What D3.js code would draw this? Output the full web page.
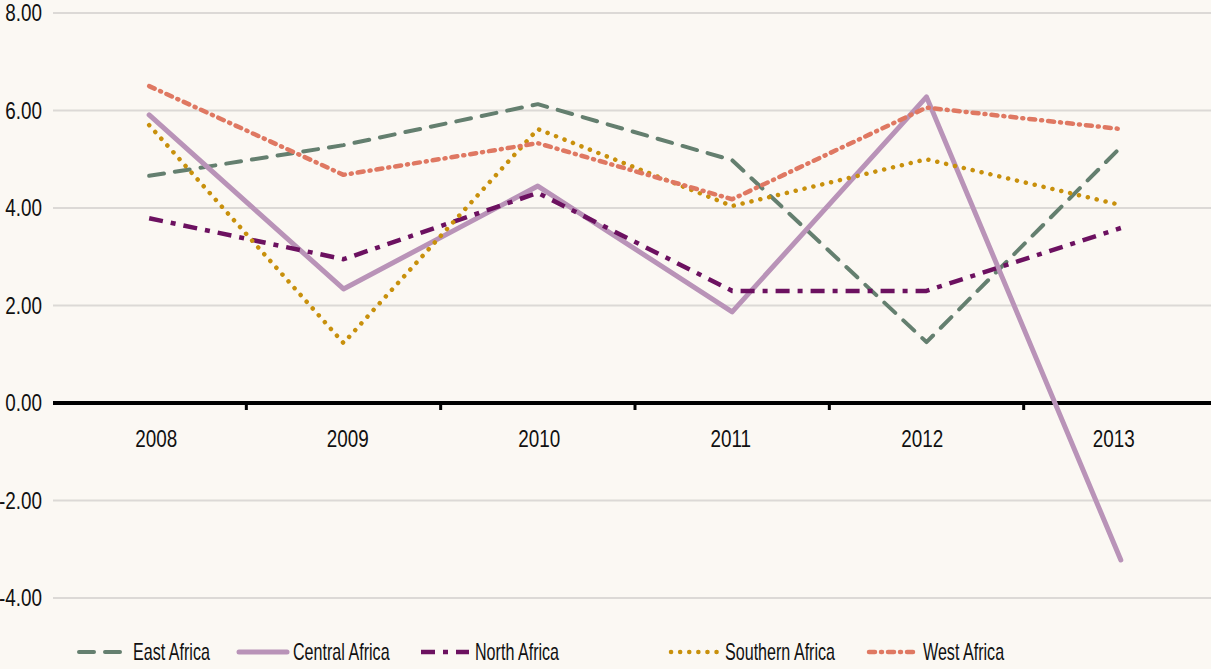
<!DOCTYPE html>
<html>
<head>
<meta charset="utf-8">
<script src="https://cdn.jsdelivr.net/npm/d3@7"></script>
<style>
  body { margin: 0; background: #fbf8f3; }
  svg text { font-family: "Liberation Sans", Arial, sans-serif; fill: #111; }
</style>
</head>
<body>
<svg id="chart"></svg>
<script>
const years = ['2008', '2009', '2010', '2011', '2012', '2013'];
const eastAfrica = [4.66, 5.29, 6.13, 4.98, 1.25, 5.25];
const centralAfrica = [5.91, 2.34, 4.45, 1.87, 6.28, -3.22];
const northAfrica = [3.79, 2.95, 4.31, 2.30, 2.30, 3.59];
const southernAfrica = [5.70, 1.23, 5.62, 4.04, 5.00, 4.06];
const westAfrica = [6.50, 4.68, 5.33, 4.18, 6.06, 5.62];
const yTicks = [-4, -2, 0, 2, 4, 6, 8];

const series = [
  { name: 'East Africa', values: eastAfrica, color: '#647f6f', width: 4, dash: '15 11', cap: 'round' },
  { name: 'Central Africa', values: centralAfrica, color: '#b993b8', width: 5, dash: null, cap: 'round' },
  { name: 'North Africa', values: northAfrica, color: '#6c1160', width: 4.5, dash: '14 8 5 8', cap: 'butt' },
  { name: 'Southern Africa', values: southernAfrica, color: '#c8900c', width: 4.5, dash: '0.1 9', cap: 'round' },
  { name: 'West Africa', values: westAfrica, color: '#df7862', width: 4.5, dash: '6 6 1 6', cap: 'round' }
];

const width = 1211, height = 669;
const fontSize = 23;
// narrow the text like a condensed face; digits a bit less
const squeezeText = 0.7;
const squeezeNum = 0.82;

const svg = d3.select('#chart').attr('width', width).attr('height', height);

const x = d3.scaleBand().domain(years).range([52, 1218]);
const y = d3.scaleLinear().domain([-4, 8]).range([598, 13]);

// grid lines
svg.append('g')
  .selectAll('line')
  .data(yTicks.filter(d => d !== 0))
  .join('line')
  .attr('x1', 53).attr('x2', width)
  .attr('y1', d => y(d)).attr('y2', d => y(d))
  .attr('stroke', '#dcd9d6')
  .attr('stroke-width', 2);

// y labels
svg.append('g')
  .selectAll('text')
  .data(yTicks)
  .join('text')
  .attr('transform', d => `translate(42, ${y(d)}) scale(${squeezeNum}, 1)`)
  .attr('dy', '0.36em')
  .attr('text-anchor', 'end')
  .attr('font-size', fontSize)
  .text(d => d3.format('.2f')(d).replace('−', '-'));

// zero axis
svg.append('line')
  .attr('x1', 53).attr('x2', width)
  .attr('y1', y(0)).attr('y2', y(0))
  .attr('stroke', '#000')
  .attr('stroke-width', 4);

svg.append('g')
  .selectAll('line')
  .data(years.slice(1))
  .join('line')
  .attr('x1', d => x(d)).attr('x2', d => x(d))
  .attr('y1', y(0)).attr('y2', y(0) + 7)
  .attr('stroke', '#000')
  .attr('stroke-width', 3);

svg.append('g')
  .selectAll('text')
  .data(years)
  .join('text')
  .attr('transform', (d, i) => `translate(${x(d) + x.bandwidth() / 2 + 7 - i * 2.8}, ${y(0) + 44}) scale(${squeezeNum}, 1)`)
  .attr('text-anchor', 'middle')
  .attr('font-size', fontSize)
  .text(d => d);

// lines
const line = d3.line()
  .x((d, i) => x(years[i]) + x.bandwidth() / 2)
  .y(d => y(d));

svg.append('g')
  .selectAll('path')
  .data(series)
  .join('path')
  .attr('d', d => line(d.values))
  .attr('fill', 'none')
  .attr('stroke', d => d.color)
  .attr('stroke-width', d => d.width)
  .attr('stroke-dasharray', d => d.dash)
  .attr('stroke-linecap', d => d.cap)
  .attr('stroke-linejoin', 'round');

// legend
const legendX = [79, 239, 421, 671, 869];
const legend = svg.append('g')
  .selectAll('g')
  .data(series)
  .join('g')
  .attr('transform', (d, i) => `translate(${legendX[i]}, 652)`);

legend.append('line')
  .attr('x1', 0).attr('x2', 48)
  .attr('y1', 0).attr('y2', 0)
  .attr('stroke', d => d.color)
  .attr('stroke-width', d => d.width)
  .attr('stroke-dasharray', d => d.dash)
  .attr('stroke-linecap', d => d.cap);

legend.append('text')
  .attr('transform', `translate(54, 0) scale(${squeezeText}, 1)`)
  .attr('dy', '0.36em')
  .attr('font-size', fontSize)
  .text(d => d.name);
</script>
</body>
</html>
